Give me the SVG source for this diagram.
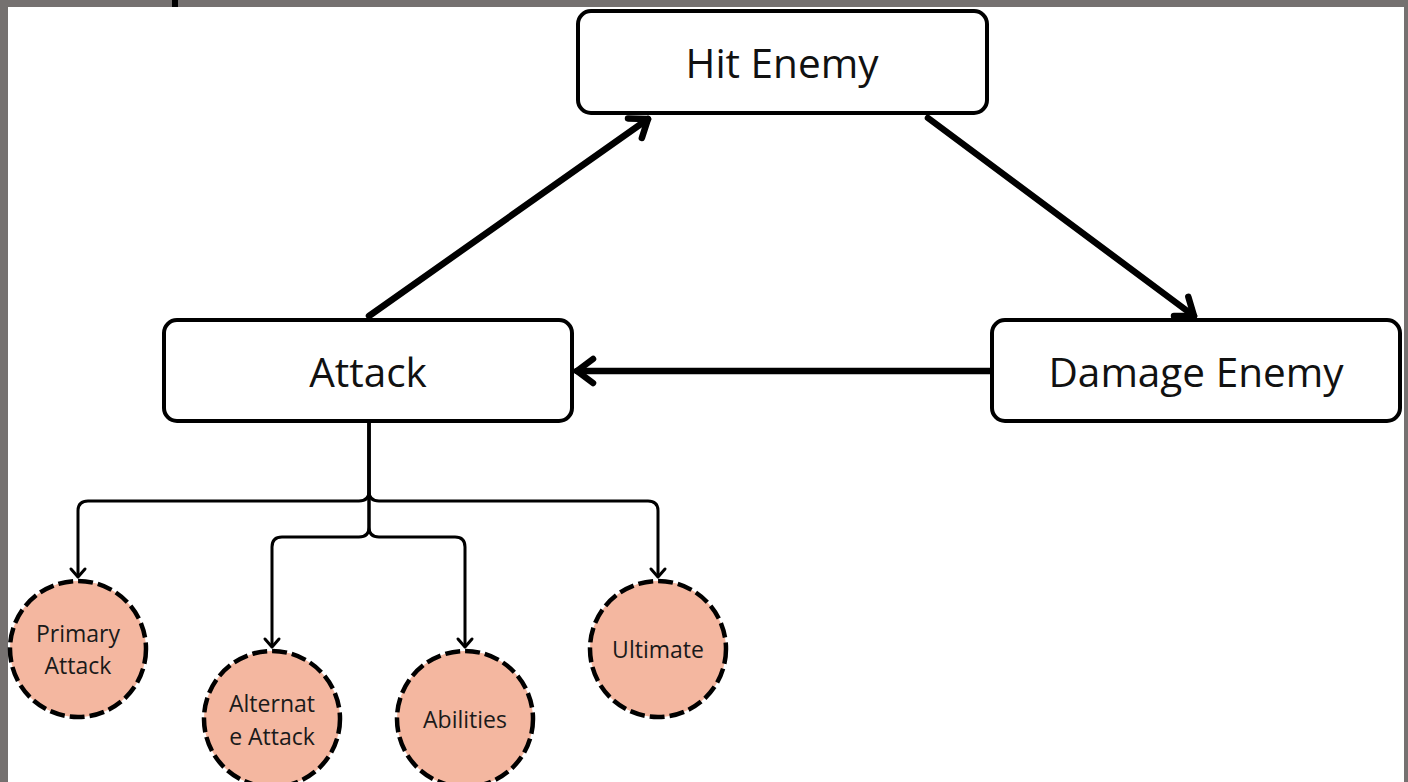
<svg xmlns="http://www.w3.org/2000/svg" width="1408" height="782" viewBox="0 0 1408 782">
  <style>
    .box { fill: #ffffff; stroke: #000000; stroke-width: 4; }
    .boxlabel { font-family: "Open Sans", "Noto Sans", sans-serif; font-size: 40.5px; fill: #111111; text-anchor: middle; }
    .bubble { fill: #F4B7A0; stroke: #000000; stroke-width: 4.5; stroke-dasharray: 15 5; }
    .bubblelabel { font-family: "Open Sans", "Noto Sans", sans-serif; font-size: 23px; fill: #1a1a1a; text-anchor: middle; }
    .flow { fill: none; stroke: #000000; stroke-width: 6.5; stroke-linecap: round; }
    .branch { fill: none; stroke: #000000; stroke-width: 3; }
  </style>
  <defs>
    <marker id="bigHead" markerUnits="userSpaceOnUse" markerWidth="40" markerHeight="40" viewBox="-24 -20 30 40" refX="0" refY="0" orient="auto">
      <path d="M-16,-12 L0,0 L-16,12" fill="none" stroke="#000" stroke-width="6.5" stroke-linecap="round" stroke-linejoin="round"/>
    </marker>
    <marker id="smallHead" markerUnits="userSpaceOnUse" markerWidth="20" markerHeight="20" viewBox="-12 -10 16 20" refX="0" refY="0" orient="auto">
      <path d="M-8,-7 L0,0 L-8,7" fill="none" stroke="#000" stroke-width="3" stroke-linecap="round" stroke-linejoin="round"/>
    </marker>
  </defs>

  <!-- page background and frame -->
  <rect x="0" y="0" width="1408" height="782" fill="#ffffff"/>
  <rect x="0" y="0" width="1408" height="7" fill="#757170"/>
  <rect x="0" y="0" width="8" height="782" fill="#757170"/>
  <rect x="1404" y="0" width="4" height="782" fill="#757170"/>
  <rect x="172" y="0" width="6" height="7" fill="#000000"/>

  <!-- connectors -->
  <g id="connectors">
    <line class="flow" x1="369" y1="316" x2="648" y2="119" marker-end="url(#bigHead)"/>
    <line class="flow" x1="928" y1="118" x2="1194" y2="316" marker-end="url(#bigHead)"/>
    <line class="flow" x1="990" y1="371" x2="577" y2="371" marker-end="url(#bigHead)"/>

    <path class="branch" d="M369,423 V491 Q369,501 359,501 H88 Q78,501 78,511 V577" marker-end="url(#smallHead)"/>
    <path class="branch" d="M369,423 V491 Q369,501 379,501 H648 Q658,501 658,511 V577" marker-end="url(#smallHead)"/>
    <path class="branch" d="M369,423 V527 Q369,537 359,537 H282 Q272,537 272,547 V647" marker-end="url(#smallHead)"/>
    <path class="branch" d="M369,423 V527 Q369,537 379,537 H455 Q465,537 465,547 V647" marker-end="url(#smallHead)"/>
  </g>

  <!-- main nodes -->
  <g id="hit-enemy">
    <rect class="box" x="578" y="11" width="409" height="102" rx="13"/>
    <text class="boxlabel" x="782" y="78">Hit Enemy</text>
  </g>
  <g id="attack">
    <rect class="box" x="164" y="320" width="408" height="101" rx="13"/>
    <text class="boxlabel" x="368" y="387">Attack</text>
  </g>
  <g id="damage-enemy">
    <rect class="box" x="992" y="320" width="408" height="101" rx="13"/>
    <text class="boxlabel" x="1196" y="387">Damage Enemy</text>
  </g>

  <!-- attack types -->
  <g id="primary-attack">
    <circle class="bubble" cx="78" cy="649" r="68"/>
    <text class="bubblelabel" x="78" y="642">Primary</text>
    <text class="bubblelabel" x="78" y="674">Attack</text>
  </g>
  <g id="alternate-attack">
    <circle class="bubble" cx="272" cy="719" r="68"/>
    <text class="bubblelabel" x="272" y="712">Alternat</text>
    <text class="bubblelabel" x="272" y="745">e Attack</text>
  </g>
  <g id="abilities">
    <circle class="bubble" cx="465" cy="719" r="68"/>
    <text class="bubblelabel" x="465" y="728">Abilities</text>
  </g>
  <g id="ultimate">
    <circle class="bubble" cx="658" cy="649" r="68"/>
    <text class="bubblelabel" x="658" y="658">Ultimate</text>
  </g>
</svg>
